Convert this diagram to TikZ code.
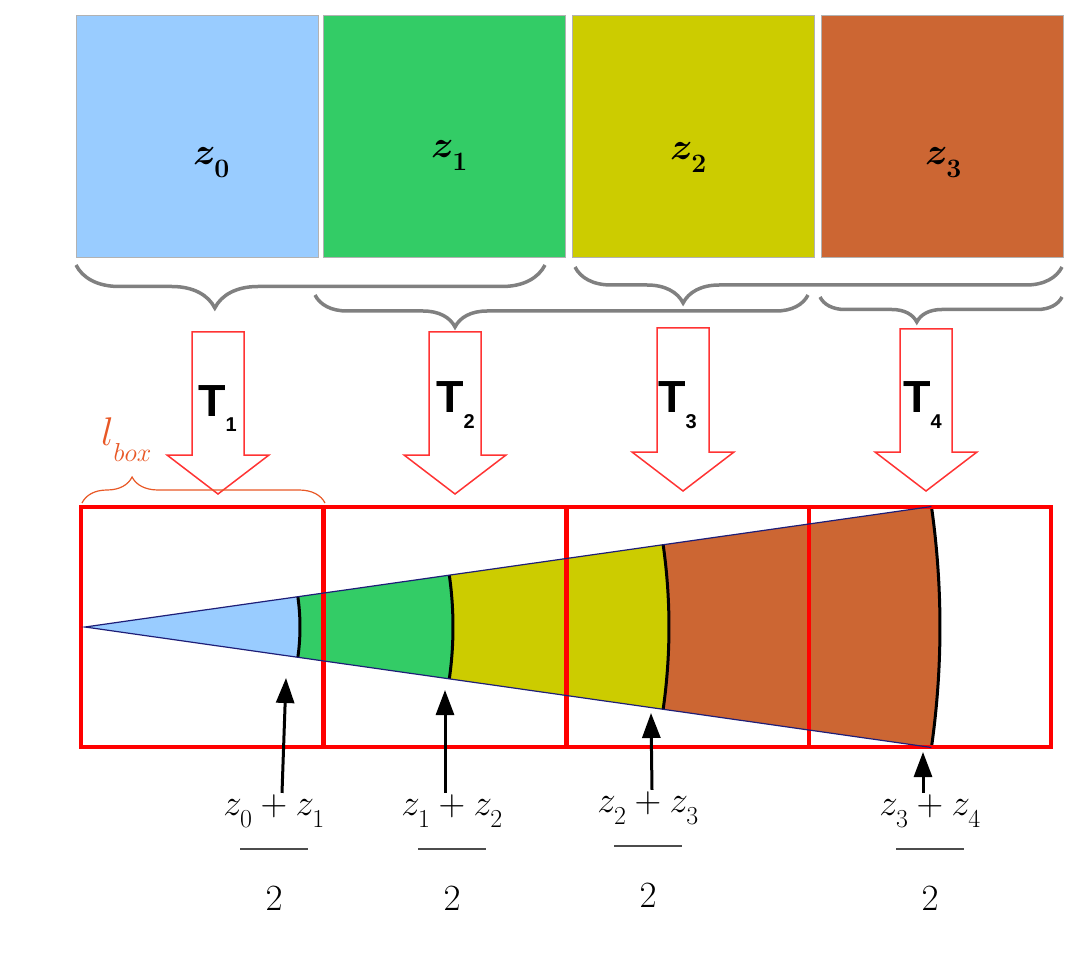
\RequirePackage{fix-cm}
\documentclass[tikz,border=0pt]{standalone}
\usepackage[no-math]{fontspec}
\usepackage{amsmath}
\usetikzlibrary{arrows.meta, calc, decorations.pathreplacing}
\newfontfamily\tfont{Liberation Sans}
\definecolor{zblue}{RGB}{153, 204, 255}
\definecolor{zgreen}{RGB}{51, 204, 102}
\definecolor{zyellow}{RGB}{204, 204, 0}
\definecolor{zorange}{RGB}{204, 102, 51}
\definecolor{boxorange}{RGB}{232, 88, 38}
\definecolor{conenavy}{RGB}{30, 30, 120}
\newcommand{\zi}[1]{z_{\raisebox{-7pt}{$\scriptstyle#1$}}}

\begin{document}
\begin{tikzpicture}[
  x=1pt, y=-1pt,
  zbox/.style={draw=gray!60, line width=1pt, minimum width=242, minimum height=242, inner sep=0},
  zlabel/.style={anchor=base west, inner sep=0, font=\fontsize{38}{38}\selectfont\boldmath},
  gbrace/.style={draw=gray, line width=3.5pt, decorate, decoration={brace, mirror, amplitude=#1}},
  tarrow/.style={draw=red!80, line width=1.5pt},
  tlabel/.style={anchor=base west, inner sep=0, font=\tfont\bfseries\fontsize{45}{45}\selectfont},
  cell/.style={draw=red, line width=4pt, minimum width=242, minimum height=240, inner sep=0},
  arc/.style={black, line width=3pt},
  ptr/.style={-{Triangle[length=25pt, width=18pt]}, line width=3pt},
  frac/.style={anchor=base, inner sep=1pt, font=\fontsize{37}{37}\selectfont},
  bar/.style={black!70, line width=1.2pt}
]
  \useasboundingbox (0,0) rectangle (1076,957);

  % the four slices
  \node[zbox, fill=zblue]   (s0) at (197,137)   {};
  \node[zbox, fill=zgreen]  (s1) at (444.5,137) {};
  \node[zbox, fill=zyellow] (s2) at (693.5,137) {};
  \node[zbox, fill=zorange] (s3) at (942,137)   {};
  \node[zlabel] (z0) at (193,165) {$\zi{0}$};
  \node[zlabel] (z1) at (431,158) {$\zi{1}$};
  \node[zlabel] (z2) at (670,160) {$\zi{2}$};
  \node[zlabel] (z3) at (925,165) {$\zi{3}$};

  \draw[gbrace=43pt, decoration={aspect=0.296}] (76,265) -- (545,265);
  \draw[gbrace=32pt, decoration={aspect=0.284}] (315,295) -- (808,295);
  \draw[gbrace=36pt, decoration={aspect=0.222}] (575,267) -- (1062,267);
  \draw[gbrace=25pt, decoration={aspect=0.40}]  (820,297) -- (1062,297);

  % block arrows T_i
  \foreach \x/\top/\tip in {218/332/494, 455/332/494, 683/328/491, 926/329/491}
    \draw[tarrow] (\x-26,\top) -- (\x+26,\top) -- (\x+26,\tip-39) -- (\x+51,\tip-39)
      -- (\x,\tip) -- (\x-51,\tip-39) -- (\x-26,\tip-39) -- cycle;
  \node[tlabel] (t1) at (198,417) {T\raisebox{-15pt}{\fontsize{20}{20}\selectfont 1}};
  \node[tlabel] (t2) at (436,412) {T\raisebox{-16pt}{\fontsize{20}{20}\selectfont 2}};
  \node[tlabel] (t3) at (658,412) {T\raisebox{-16pt}{\fontsize{20}{20}\selectfont 3}};
  \node[tlabel] (t4) at (903,412) {T\raisebox{-16pt}{\fontsize{20}{20}\selectfont 4}};

  \node[anchor=base west, inner sep=0, text=boxorange] (lbox) at (101,445)
    {\fontsize{40}{40}\selectfont$l$\raisebox{-16pt}{\fontsize{26}{26}\selectfont$box$}};
  \draw[draw=boxorange, line width=1.2pt, decorate, decoration={brace, amplitude=26pt, aspect=0.206}]
    (82,503) -- (325,503);

  % cone
  \coordinate (apex) at (85,627);
  \foreach \ri/\ro/\col in {0.01/215/zblue, 215/368/zgreen, 368/584/zyellow, 584/855/zorange}
    \fill[\col] ($(apex)+(8.1:\ri)$) arc[start angle=8.1, end angle=-8.1, radius=\ri]
      -- ($(apex)+(-8.1:\ro)$) arc[start angle=-8.1, end angle=8.1, radius=\ro] -- cycle;
  \foreach \r in {215, 368, 584, 855}
    \draw[arc] ($(apex)+(8.1:\r)$) arc[start angle=8.1, end angle=-8.1, radius=\r];

  \node[cell] (b1) at (201.5,627) {};
  \node[cell] (b2) at (445,627)   {};
  \node[cell] (b3) at (688,627)   {};
  \node[cell] (b4) at (930,627)   {};

  \draw[conenavy, line width=1.2pt] ($(apex)+(8.1:855)$) -- (apex) -- ($(apex)+(-8.1:855)$);

  % averages at the boundaries
  \coordinate (p1) at (286,678);
  \coordinate (p2) at (445,690);
  \coordinate (p3) at (651,713);
  \coordinate (p4) at (923,752);

  \node[frac] (n1) at (274,815) {$\zi{0}+\zi{1}$};
  \node[frac] (n2) at (452,815) {$\zi{1}+\zi{2}$};
  \node[frac] (n3) at (648,812) {$\zi{2}+\zi{3}$};
  \node[frac] (n4) at (930,815) {$\zi{3}+\zi{4}$};
  \foreach \n/\dx in {1/8, 2/-7, 3/4, 4/-7}
    \draw[ptr] ([xshift=\dx pt]n\n.north) -- (p\n);
  \foreach \n in {1,...,4} {
    \draw[bar] ($(n\n.base)+(-34,34)$) -- ($(n\n.base)+(34,34)$);
    \node[frac] (d\n) at ($(n\n.base)+(0,95)$) {$2$};
  }
\end{tikzpicture}
\end{document}
